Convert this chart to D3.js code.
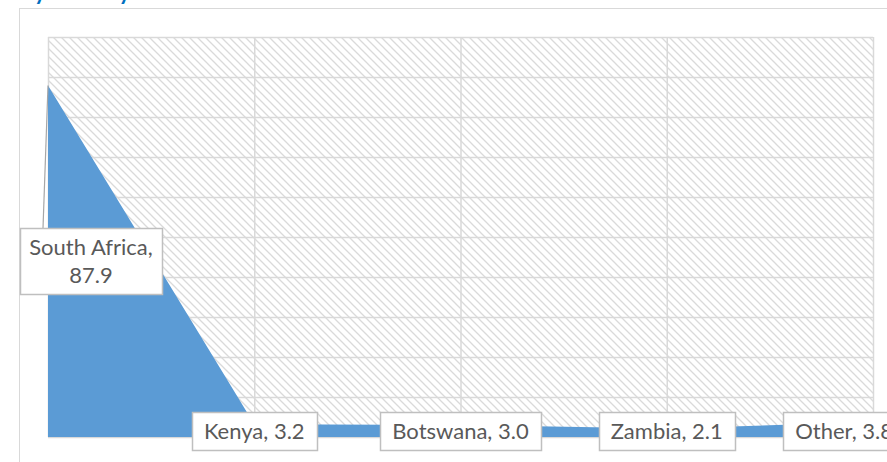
<!DOCTYPE html>
<html>
<head>
<meta charset="utf-8">
<script src="https://cdn.jsdelivr.net/npm/d3@7"></script>
<style>
  body { margin: 0; background: #fff; }
  svg { display: block; }
</style>
</head>
<body>
<svg width="887" height="462"></svg>
<script>
const categories = ["South Africa", "Kenya", "Botswana", "Zambia", "Other"];
const shares = [87.9, 3.2, 3.0, 2.1, 3.8];
const yTicks = [0, 10, 20, 30, 40, 50, 60, 70, 80, 90, 100];
const title = "By Country";

const svg = d3.select("svg");
const font = "Lato, 'Open Sans', sans-serif";

const plotLeft = 48, plotRight = 873, plotTop = 37, plotBottom = 437;
const chartRight = 905; // chart area runs past the page edge

const x = d3.scalePoint().domain(categories).range([plotLeft, plotRight]);
const y = d3.scaleLinear().domain([0, 100]).range([plotBottom, plotTop]);

// hatch pattern for the plot area
const defs = svg.append("defs");
const pat = defs.append("pattern")
  .attr("id", "hatch")
  .attr("patternUnits", "userSpaceOnUse")
  .attr("width", 8)
  .attr("height", 8);
pat.append("rect").attr("width", 8).attr("height", 8).attr("fill", "#fff");
pat.append("path")
  .attr("d", "M-2,-2 L10,10 M-2,6 L2,10 M6,-2 L10,2")
  .attr("stroke", "#dadada")
  .attr("stroke-width", 1.3);

// title (mostly cut off at the top)
svg.append("text")
  .attr("x", 20)
  .attr("y", 0)
  .attr("fill", "#0070c0")
  .attr("font-family", font)
  .attr("font-weight", "bold")
  .attr("font-size", 22)
  .text(title);

// chart area border
svg.append("rect")
  .attr("x", 19.5)
  .attr("y", 8.5)
  .attr("width", 900)
  .attr("height", 500)
  .attr("fill", "#fff")
  .attr("stroke", "#d9d9d9")
  .attr("stroke-width", 1);

svg.append("rect")
  .attr("x", plotLeft)
  .attr("y", plotTop)
  .attr("width", plotRight - plotLeft)
  .attr("height", plotBottom - plotTop)
  .attr("fill", "url(#hatch)");

// gridlines
svg.append("g")
  .attr("transform", `translate(${plotLeft},0)`)
  .call(d3.axisLeft(y).tickValues(yTicks).tickSize(-(plotRight - plotLeft)).tickFormat(""))
  .call(g => g.select(".domain").remove())
  .call(g => g.selectAll("line").attr("stroke", "#d9d9d9").attr("stroke-width", 1.5));

svg.append("g")
  .attr("transform", `translate(0,${plotTop})`)
  .call(d3.axisBottom(x).tickSize(plotBottom - plotTop).tickFormat(""))
  .call(g => g.select(".domain").remove())
  .call(g => g.selectAll("line").attr("stroke", "#d9d9d9").attr("stroke-width", 1.5));

// area
const data = categories.map((c, i) => ({ name: c, value: shares[i] }));
const area = d3.area()
  .x(d => x(d.name))
  .y0(y(0))
  .y1(d => y(d.value));

svg.append("path")
  .datum(data)
  .attr("d", area)
  .attr("fill", "#5b9bd5");

// South Africa label sits to the left with a leader line
svg.append("line")
  .attr("x1", x(categories[0]))
  .attr("y1", y(shares[0]))
  .attr("x2", 43)
  .attr("y2", 228)
  .attr("stroke", "#a6a6a6")
  .attr("stroke-width", 1.2);

// data labels
const labels = svg.append("g");

function addLabel(lines, cx, cy, fixedW) {
  const g = labels.append("g");
  const box = g.append("rect");
  const lh = 28;
  const fs = 22;
  const t = g.append("text")
    .attr("font-family", font)
    .attr("font-size", fs)
    .attr("fill", "#595959")
    .attr("text-anchor", "middle");
  lines.forEach((l, i) => {
    t.append("tspan")
      .attr("y", cy + (i - (lines.length - 1) / 2) * lh + fs * 0.36)
      .text(l);
  });
  const w = fixedW || t.node().getBBox().width + 24;
  // keep the box inside the chart area
  cx = Math.min(cx, chartRight - w / 2);
  t.selectAll("tspan").attr("x", cx);
  const h = lines.length * lh + 10;
  box.attr("x", Math.round(cx - w / 2) + 0.5)
    .attr("y", Math.round(cy - h / 2) + 0.5)
    .attr("width", Math.round(w))
    .attr("height", Math.round(h))
    .attr("fill", "#fff")
    .attr("stroke", "#bfbfbf")
    .attr("stroke-width", 1.5);
}

addLabel([categories[0] + ",", shares[0].toFixed(1)], 91, 261, 142);
data.slice(1).forEach(d => {
  addLabel([`${d.name}, ${d.value.toFixed(1)}`], x(d.name), 431);
});
</script>
</body>
</html>
